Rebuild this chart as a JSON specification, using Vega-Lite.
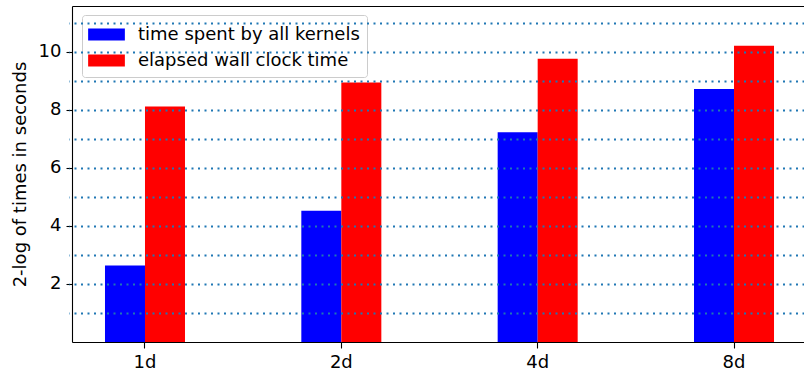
{
  "$schema": "https://vega.github.io/schema/vega-lite/v6.json",
  "width": 732,
  "height": 336,
  "autosize": {"type": "none"},
  "padding": {"left": 72, "top": 6, "right": 0, "bottom": 29},
  "config": {
    "view": {"stroke": null},
    "font": "DejaVu Sans",
    "axis": {
      "labelFont": "DejaVu Sans",
      "titleFont": "DejaVu Sans",
      "labelFontSize": 18,
      "titleFontSize": 18,
      "titleFontWeight": "normal",
      "labelColor": "#000000",
      "titleColor": "#000000",
      "domainColor": "#000000",
      "domainWidth": 1.1,
      "tickColor": "#000000",
      "tickWidth": 1.1,
      "tickSize": 6,
      "labelPadding": 5
    }
  },
  "data": {
    "values": [
      {"config": "1d", "series": "time spent by all kernels", "value": 2.63},
      {"config": "1d", "series": "elapsed wall clock time", "value": 8.11},
      {"config": "2d", "series": "time spent by all kernels", "value": 4.52},
      {"config": "2d", "series": "elapsed wall clock time", "value": 8.94},
      {"config": "4d", "series": "time spent by all kernels", "value": 7.22},
      {"config": "4d", "series": "elapsed wall clock time", "value": 9.75},
      {"config": "8d", "series": "time spent by all kernels", "value": 8.71},
      {"config": "8d", "series": "elapsed wall clock time", "value": 10.2}
    ]
  },
  "layer": [
    {
      "mark": {"type": "bar"},
      "encoding": {
        "x": {
          "field": "config",
          "type": "nominal",
          "scale": {"domain": ["1d", "2d", "4d", "8d"], "paddingInner": 0.5925, "paddingOuter": 0.168, "range": [0, 735]},
          "axis": {"orient": "bottom", "title": null, "labelAngle": 0, "grid": false}
        },
        "xOffset": {
          "field": "series",
          "type": "nominal",
          "scale": {"domain": ["time spent by all kernels", "elapsed wall clock time"], "paddingInner": 0, "paddingOuter": 0}
        },
        "y": {
          "field": "value",
          "type": "quantitative",
          "scale": {"domain": [0, 11.57], "nice": false, "zero": true},
          "axis": {"orient": "left", "values": [2, 4, 6, 8, 10], "grid": false, "title": "2-log of times in seconds", "titlePadding": 9}
        },
        "color": {
          "field": "series",
          "type": "nominal",
          "scale": {"domain": ["time spent by all kernels", "elapsed wall clock time"], "range": ["#0000ff", "#ff0000"]},
          "legend": {
            "title": null,
            "orient": "none",
            "legendX": 10,
            "legendY": 9,
            "direction": "vertical",
            "symbolType": "M-1.5,-0.5H1.5V0.5H-1.5Z",
            "symbolSize": 600,
            "symbolStrokeWidth": 0,
            "symbolOffset": 5,
            "labelFont": "DejaVu Sans",
            "labelFontSize": 18,
            "labelColor": "#000000",
            "labelLimit": 400,
            "labelOffset": 19,
            "rowPadding": 4,
            "padding": 7,
            "fillColor": "rgba(255,255,255,0.8)",
            "strokeColor": "#cccccc",
            "cornerRadius": 3
          }
        }
      }
    },
    {
      "mark": {"type": "bar", "opacity": 0},
      "encoding": {
        "x": {
          "field": "config",
          "type": "nominal",
          "scale": {"domain": ["1d", "2d", "4d", "8d"], "paddingInner": 0.5925, "paddingOuter": 0.168, "range": [0, 735]},
          "axis": {"orient": "top", "title": null, "labels": false, "ticks": false, "domain": true, "grid": false}
        },
        "y": {
          "field": "value",
          "type": "quantitative",
          "scale": {"domain": [0, 11.57], "nice": false, "zero": true},
          "axis": {
            "orient": "right",
            "title": null,
            "labels": false,
            "ticks": false,
            "domain": false,
            "values": [1, 2, 3, 4, 5, 6, 7, 8, 9, 10, 11],
            "grid": true,
            "gridColor": "#1f77b4",
            "gridDash": [2, 4.5],
            "gridWidth": 2,
            "gridOpacity": 1,
            "zindex": 1
          }
        }
      }
    }
  ],
  "resolve": {"axis": {"x": "independent", "y": "independent"}}
}
